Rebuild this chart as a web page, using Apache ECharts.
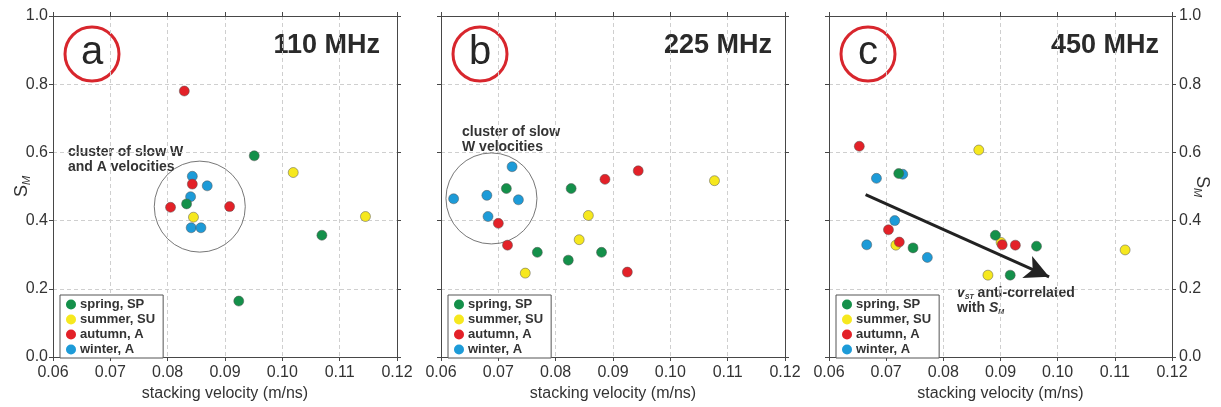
<!DOCTYPE html>
<html>
<head>
<meta charset="utf-8">
<script src="https://cdn.jsdelivr.net/npm/echarts@6.0.0/dist/echarts.min.js"></script>
<style>
  html, body { margin: 0; padding: 0; background: #fff; }
  #main { width: 1221px; height: 407px; }
</style>
</head>
<body>
<div id="main"></div>
<script>
// seasons and colours
const seasonNames = ['spring, SP', 'summer, SU', 'autumn, A', 'winter, A'];
const seasonColors = ['#14904a', '#f6e81e', '#e32128', '#1d9bd8'];

// 110 MHz  [stacking velocity, S_M]
const springA = [[0.0951, 0.590], [0.0833, 0.449], [0.1069, 0.357], [0.0924, 0.164]];
const summerA = [[0.1019, 0.541], [0.0845, 0.410], [0.1145, 0.412]];
const autumnA = [[0.0829, 0.780], [0.0843, 0.507], [0.0805, 0.439], [0.0908, 0.441]];
const winterA = [[0.0843, 0.530], [0.0869, 0.502], [0.0840, 0.470], [0.0841, 0.379], [0.0858, 0.379]];

// 225 MHz
const springB = [[0.0714, 0.494], [0.0827, 0.494], [0.0768, 0.307], [0.0880, 0.307], [0.0822, 0.284]];
const summerB = [[0.1077, 0.517], [0.0857, 0.415], [0.0841, 0.344], [0.0747, 0.246]];
const autumnB = [[0.0944, 0.546], [0.0886, 0.521], [0.0700, 0.392], [0.0716, 0.328], [0.0925, 0.249]];
const winterB = [[0.0724, 0.558], [0.0622, 0.464], [0.0680, 0.474], [0.0735, 0.461], [0.0682, 0.412]];

// 450 MHz
const springC = [[0.0722, 0.538], [0.0891, 0.357], [0.0963, 0.325], [0.0747, 0.320], [0.0917, 0.240]];
const summerC = [[0.0862, 0.607], [0.0901, 0.336], [0.0717, 0.328], [0.1118, 0.314], [0.0878, 0.240]];
const autumnC = [[0.0653, 0.618], [0.0704, 0.373], [0.0903, 0.329], [0.0926, 0.328], [0.0723, 0.337]];
const winterC = [[0.0729, 0.536], [0.0683, 0.524], [0.0715, 0.400], [0.0666, 0.329], [0.0772, 0.292]];

// annotations
const clusterA = [0.0856, 0.441];
const clusterB = [0.0688, 0.465];
const arrowStart = [0.0664, 0.476];
const arrowEnd = [0.0985, 0.235];

const xTicks = [0.06, 0.07, 0.08, 0.09, 0.10, 0.11, 0.12];
const yTicks = [0.0, 0.2, 0.4, 0.6, 0.8, 1.0];
const panelLetters = ['a', 'b', 'c'];
const panelFreqs = ['110 MHz', '225 MHz', '450 MHz'];

const FONT = '"Liberation Sans", Arial, sans-serif';
const frameColor = '#474747';
const grids = [
  { left: 53, top: 16, width: 344, height: 344 },
  { left: 441, top: 16, width: 344, height: 344 },
  { left: 829, top: 16, width: 343, height: 344 },
];
const freqInset = [17, 13, 13];

const panels = [
  [springA, summerA, autumnA, winterA],
  [springB, summerB, autumnB, winterB],
  [springC, summerC, autumnC, winterC],
];

const chart = echarts.init(document.getElementById('main'));

const nameRich = {
  s: { fontFamily: FONT, fontSize: 18, color: '#333' },
  m: { fontFamily: FONT, fontSize: 11, fontStyle: 'italic', color: '#333', verticalAlign: 'bottom', padding: [8, 0, 0, 0] }
};

const xAxis = [];
const yAxis = [];
grids.forEach((g, i) => {
  xAxis.push({
    type: 'value', gridIndex: i, position: 'bottom',
    min: xTicks[0], max: xTicks[xTicks.length - 1], interval: 0.01,
    name: 'stacking velocity (m/ns)', nameLocation: 'middle', nameGap: 29,
    nameMoveOverlap: false,
    nameTextStyle: { fontFamily: FONT, fontSize: 16, color: '#333' },
    axisLine: { show: true, onZero: false, lineStyle: { color: frameColor, width: 1 } },
    axisTick: { show: true, length: 4, lineStyle: { color: frameColor } },
    axisLabel: {
      fontFamily: FONT, fontSize: 16, color: '#333', margin: 8,
      formatter: v => v.toFixed(2)
    },
    splitLine: { show: true, lineStyle: { color: '#cfcfcf', type: [4, 3] } },
  });
});
grids.forEach((g, i) => {
  xAxis.push({
    type: 'value', gridIndex: i, position: 'top',
    min: xTicks[0], max: xTicks[xTicks.length - 1], interval: 0.01,
    axisLine: { show: true, onZero: false, lineStyle: { color: frameColor, width: 1 } },
    axisTick: { show: true, length: 4, lineStyle: { color: frameColor } },
    axisLabel: { show: false },
    splitLine: { show: false },
  });
});
grids.forEach((g, i) => {
  yAxis.push({
    type: 'value', gridIndex: i, position: 'left',
    min: yTicks[0], max: yTicks[yTicks.length - 1], interval: 0.2,
    name: i === 0 ? '{s|S}{m|M}' : '', nameLocation: 'middle', nameGap: 21, nameRotate: 90,
    nameMoveOverlap: false,
    nameTextStyle: { fontFamily: FONT, color: '#333', rich: nameRich },
    axisLine: { show: true, onZero: false, lineStyle: { color: frameColor, width: 1 } },
    axisTick: { show: true, length: 4, lineStyle: { color: frameColor } },
    axisLabel: {
      show: i === 0, fontFamily: FONT, fontSize: 16, color: '#333', margin: 5,
      formatter: v => v.toFixed(1)
    },
    splitLine: { show: true, lineStyle: { color: '#cfcfcf', type: [4, 3] } },
  });
});
grids.forEach((g, i) => {
  yAxis.push({
    type: 'value', gridIndex: i, position: 'right',
    min: yTicks[0], max: yTicks[yTicks.length - 1], interval: 0.2,
    name: i === 2 ? '{s|S}{m|M}' : '', nameLocation: 'middle', nameGap: 20, nameRotate: -90,
    nameMoveOverlap: false,
    nameTextStyle: { fontFamily: FONT, color: '#333', rich: nameRich },
    axisLine: { show: true, onZero: false, lineStyle: { color: frameColor, width: 1 } },
    axisTick: { show: true, length: 4, lineStyle: { color: frameColor } },
    axisLabel: {
      show: i === 2, fontFamily: FONT, fontSize: 16, color: '#333', margin: 7,
      formatter: v => v.toFixed(1)
    },
    splitLine: { show: false },
  });
});

const series = [];
// cluster rings first so dots sit above them
[[0, clusterA], [1, clusterB]].forEach(([i, c]) => {
  series.push({
    type: 'scatter', xAxisIndex: i, yAxisIndex: i, silent: true, z: 1,
    data: [c], symbol: 'circle', symbolSize: 91,
    itemStyle: { color: 'rgba(0,0,0,0)', borderColor: '#555', borderWidth: 1 },
  });
});
// draw order: winter, summer, spring, autumn
const drawOrder = [3, 1, 0, 2];
panels.forEach((sets, i) => {
  drawOrder.forEach(k => {
    series.push({
      name: seasonNames[k], type: 'scatter', xAxisIndex: i, yAxisIndex: i, z: 3,
      data: sets[k], symbol: 'circle', symbolSize: 10,
      itemStyle: { color: seasonColors[k], borderColor: '#555', borderWidth: 0.5, opacity: 1 },
      emphasis: { disabled: true },
    });
  });
});
// arrow in panel c
series.push({
  type: 'scatter', xAxisIndex: 2, yAxisIndex: 2, data: [], silent: true, z: 4,
  markLine: {
    silent: true, animation: false,
    symbol: ['none', 'arrow'], symbolSize: [18, 24],
    label: { show: false },
    lineStyle: { color: '#222', width: 3, type: 'solid' },
    data: [[{ coord: arrowStart }, { coord: arrowEnd }]],
  },
});

const legends = grids.map(g => ({
  data: seasonNames, orient: 'vertical',
  left: g.left + 7, top: 295,
  icon: 'circle', itemWidth: 10, itemHeight: 10, itemGap: 2,
  padding: [3, 8, 2, 6],
  backgroundColor: '#fff', borderColor: '#555', borderWidth: 1, borderRadius: 0,
  selectedMode: false,
  itemStyle: { borderWidth: 0 },
  textStyle: { fontFamily: FONT, fontSize: 13, fontWeight: 'bold', color: '#333', lineHeight: 12.5, padding: [0, 0, 0, -1] },
}));

const graphic = [];
grids.forEach((g, i) => {
  const cx = g.left + 39;
  graphic.push({
    type: 'circle', shape: { cx: cx, cy: 54, r: 27 },
    style: { fill: 'none', stroke: '#d8262d', lineWidth: 3 }, silent: true,
  });
  graphic.push({
    type: 'text', x: cx, y: 53, silent: true,
    style: { text: panelLetters[i], font: '40px ' + FONT, fill: '#262626', align: 'center', verticalAlign: 'middle' },
  });
  graphic.push({
    type: 'text', x: g.left + g.width - freqInset[i], y: 46, silent: true,
    style: { text: panelFreqs[i], font: 'bold 27px ' + FONT, fill: '#2a2a2a', align: 'right', verticalAlign: 'middle' },
  });
});
graphic.push({
  type: 'text', x: 68, y: 145, silent: true,
  style: { text: 'cluster of slow W\nand A velocities', font: 'bold 14px ' + FONT, fill: '#333', lineHeight: 15 },
});
graphic.push({
  type: 'text', x: 462, y: 125, silent: true,
  style: { text: 'cluster of slow\nW velocities', font: 'bold 14px ' + FONT, fill: '#333', lineHeight: 15 },
});
graphic.push({
  type: 'text', x: 957, y: 286, silent: true,
  style: {
    text: '{v|v}{sub|ST}{t| anti-correlated}\n{t|with }{v|S}{sub|M}',
    rich: {
      v: { font: 'italic bold 14px ' + FONT, fill: '#333', lineHeight: 15 },
      sub: { font: 'italic bold 7px ' + FONT, fill: '#333', lineHeight: 15, verticalAlign: 'bottom', padding: [6, 0, 0, 0] },
      t: { font: 'bold 14px ' + FONT, fill: '#333', lineHeight: 15 },
    },
  },
});

chart.setOption({
  animation: false,
  backgroundColor: '#fff',
  grid: grids,
  xAxis: xAxis,
  yAxis: yAxis,
  legend: legends,
  series: series,
  graphic: graphic,
});
</script>
</body>
</html>
